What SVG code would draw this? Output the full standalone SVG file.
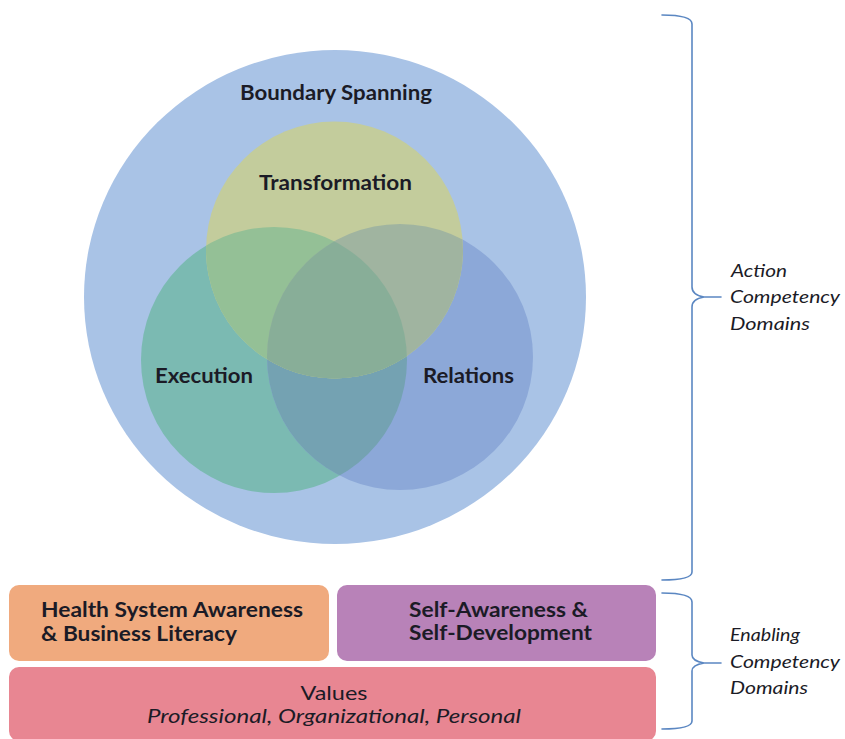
<svg xmlns="http://www.w3.org/2000/svg" width="845" height="739" viewBox="0 0 845 739">
<style>
.lbl{font-family:Lato,"Open Sans","Liberation Sans",sans-serif;font-weight:bold;fill:#1b1b26;font-size:20px}
.side{font-family:Lato,"Open Sans","Liberation Sans",sans-serif;font-style:italic;fill:#1b1b26;font-size:17px}
.val{font-family:Lato,"Open Sans","Liberation Sans",sans-serif;font-style:italic;fill:#1b1b26;font-size:20px}
.brace{fill:none;stroke:#5b87c2;stroke-width:1.6;stroke-linecap:round}
</style>
<defs>
<clipPath id="cE"><circle cx="274" cy="360" r="133"/></clipPath>
<clipPath id="cR"><circle cx="400" cy="357" r="133"/></clipPath>
<clipPath id="cER"><circle cx="274" cy="360" r="133" clip-path="url(#cR)"/></clipPath>
</defs>
<rect width="845" height="739" fill="#ffffff"/>
<g id="boundary-spanning">
<ellipse cx="335" cy="297" rx="251" ry="247" fill="#a9c3e6"/>
<text class="lbl" x="336" y="100" text-anchor="middle" textLength="192" lengthAdjust="spacingAndGlyphs">Boundary Spanning</text>
</g>
<g id="execution">
<circle cx="274" cy="360" r="133" fill="#7bbab2"/>
</g>
<g id="relations">
<circle cx="400" cy="357" r="133" fill="#8ca8d8"/>
<circle cx="400" cy="357" r="133" fill="#74a2b2" clip-path="url(#cE)"/>
</g>
<g id="transformation">
<circle cx="334.5" cy="250" r="128.5" fill="#c3cc9c"/>
<circle cx="334.5" cy="250" r="128.5" fill="#94c096" clip-path="url(#cE)"/>
<circle cx="334.5" cy="250" r="128.5" fill="#a0b4a0" clip-path="url(#cR)"/>
<circle cx="334.5" cy="250" r="128.5" fill="#88ae98" clip-path="url(#cER)"/>
<text class="lbl" x="335.5" y="190" text-anchor="middle" textLength="153" lengthAdjust="spacingAndGlyphs">Transformation</text>
</g>
<g id="execution-label">
<text class="lbl" x="204" y="383" text-anchor="middle" textLength="98" lengthAdjust="spacingAndGlyphs">Execution</text>
</g>
<g id="relations-label">
<text class="lbl" x="468.5" y="383" text-anchor="middle" textLength="91" lengthAdjust="spacingAndGlyphs">Relations</text>
</g>
<g id="health-system">
<rect x="9" y="585" width="320" height="76" rx="10" fill="#f0aa7e"/>
<text class="lbl" x="41" y="617" textLength="262" lengthAdjust="spacingAndGlyphs">Health System Awareness</text>
<text class="lbl" x="41" y="641" textLength="196" lengthAdjust="spacingAndGlyphs">&amp; Business Literacy</text>
</g>
<g id="self-awareness">
<rect x="337" y="585" width="319" height="76" rx="10" fill="#b882b8"/>
<text class="lbl" x="409" y="617" textLength="179" lengthAdjust="spacingAndGlyphs">Self-Awareness &amp;</text>
<text class="lbl" x="409" y="640" textLength="183" lengthAdjust="spacingAndGlyphs">Self-Development</text>
</g>
<g id="values">
<rect x="9" y="667" width="647" height="74" rx="10" fill="#e88692"/>
<text class="lbl" x="334" y="700" text-anchor="middle" textLength="67" lengthAdjust="spacingAndGlyphs" style="font-weight:normal">Values</text>
<text class="val" x="334" y="723" text-anchor="middle" textLength="374" lengthAdjust="spacingAndGlyphs">Professional, Organizational, Personal</text>
</g>
<g id="braces">
<path class="brace" d="M662 15 C680 15 692 17 692 24 L692 287 C692 293 698 296 704 297 C698 298 692 301 692 307 L692 572 C692 578 680 580 662 580 M704 297 L721 297"/>
<path class="brace" d="M662 593 C680 593 692 595 692 602 L692 655 C692 660 698 662 704 663 C698 664 692 666 692 671 L692 721 C692 727 680 729 662 729 M704 663 L721 663"/>
</g>
<g id="action-label">
<text class="side" x="731" y="277" textLength="56" lengthAdjust="spacingAndGlyphs">Action</text>
<text class="side" x="730" y="303" textLength="110" lengthAdjust="spacingAndGlyphs">Competency</text>
<text class="side" x="730" y="330" textLength="80" lengthAdjust="spacingAndGlyphs">Domains</text>
</g>
<g id="enabling-label">
<text class="side" x="730" y="641" textLength="70" lengthAdjust="spacingAndGlyphs">Enabling</text>
<text class="side" x="730" y="668" textLength="110" lengthAdjust="spacingAndGlyphs">Competency</text>
<text class="side" x="730" y="694" textLength="78" lengthAdjust="spacingAndGlyphs">Domains</text>
</g>
</svg>
